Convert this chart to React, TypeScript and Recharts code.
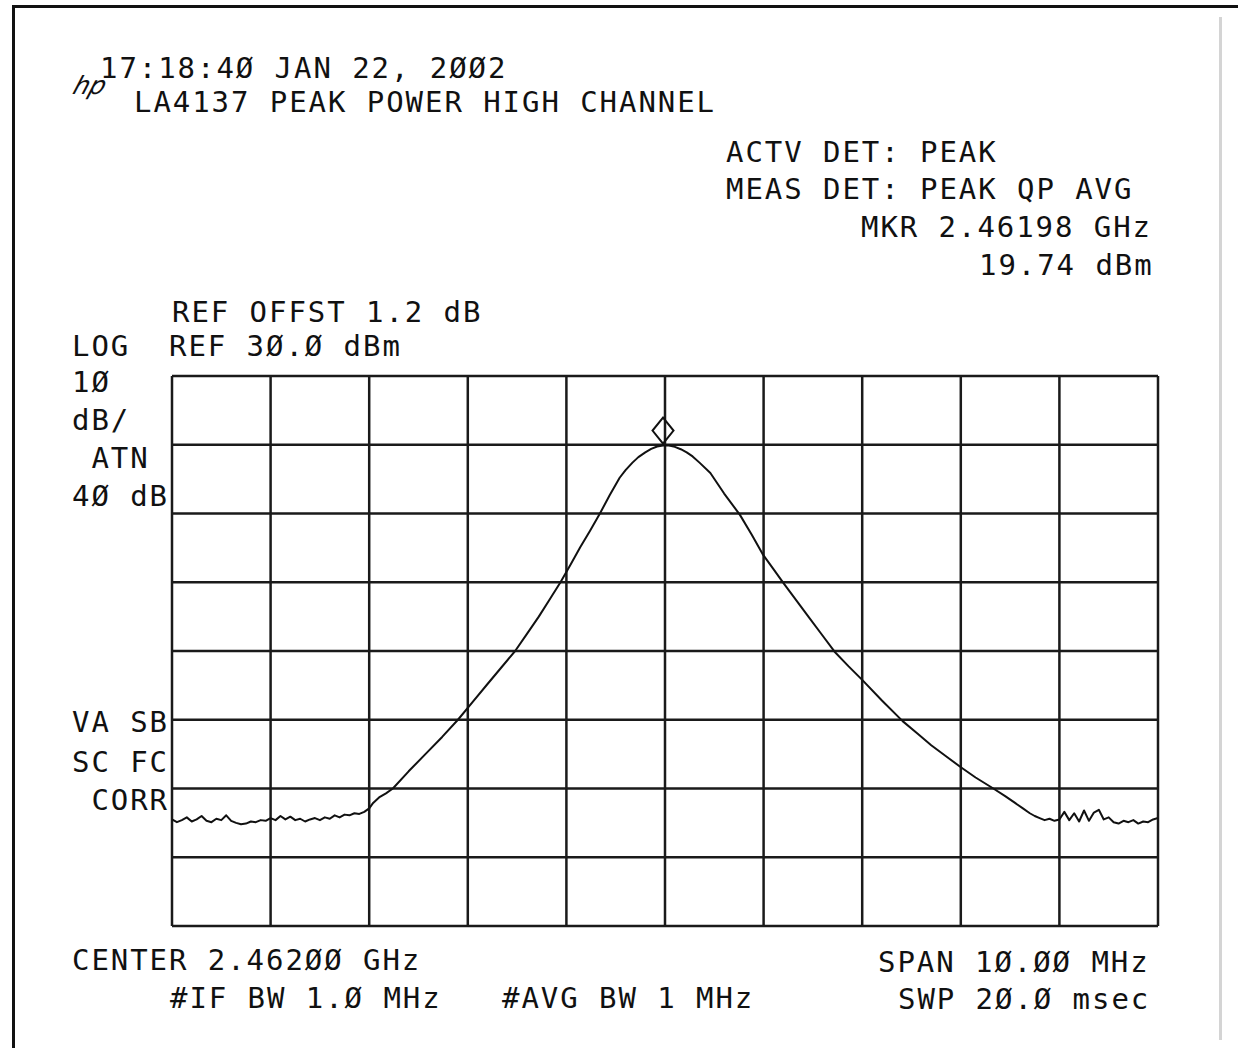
import React from "react"
import { LineChart, Line, XAxis, YAxis, ReferenceLine, ReferenceDot } from "recharts"

// trace, MHz offset from center (2.462 GHz) and level in dBm
const freqMHz = [
  -5.0, -4.95, -4.9, -4.85, -4.8, -4.75, -4.7, -4.65, -4.6, -4.55,
  -4.5, -4.45, -4.4, -4.35, -4.3, -4.25, -4.2, -4.15, -4.1, -4.05,
  -4.0, -3.95, -3.9, -3.85, -3.8, -3.75, -3.7, -3.65, -3.6, -3.55,
  -3.5, -3.45, -3.4, -3.35, -3.3, -3.25, -3.2, -3.15, -3.1, -3.05,
  -3.0, -2.96, -2.9, -2.83, -2.76, -2.6, -2.43, -2.26, -2.1, -1.95,
  -1.8, -1.66, -1.52, -1.4, -1.28, -1.17, -1.06, -0.96, -0.86, -0.76,
  -0.66, -0.56, -0.46, -0.4, -0.33, -0.27, -0.2, -0.14, -0.08, -0.02,
  0.04, 0.1, 0.16, 0.22, 0.28, 0.35, 0.46, 0.6, 0.76, 0.88,
  0.99, 1.1, 1.2, 1.33, 1.46, 1.59, 1.72, 1.86, 2.0, 2.2,
  2.41, 2.56, 2.7, 2.85, 2.99, 3.15, 3.33, 3.45, 3.55, 3.63, 3.7,
  3.75, 3.8, 3.85, 3.9, 3.95, 4.0, 4.05, 4.1, 4.15, 4.2, 4.25,
  4.3, 4.35, 4.4, 4.45, 4.5, 4.55, 4.6, 4.65, 4.7, 4.75,
  4.8, 4.85, 4.9, 4.95, 5.0,
]
const levelDbm = [
  -34.5, -34.9, -34.6, -34.2, -34.8, -34.5, -34.0, -34.7, -34.9, -34.4,
  -34.6, -33.9, -34.7, -35.0, -35.2, -35.1, -34.8, -34.9, -34.6, -34.7,
  -34.3, -34.6, -34.0, -34.5, -34.1, -34.6, -34.4, -34.8, -34.5, -34.3,
  -34.6, -34.2, -34.4, -33.9, -34.2, -33.8, -33.9, -33.6, -33.7, -33.4,
  -32.9, -32.1, -31.3, -30.7, -30.0, -27.5, -25.0, -22.5, -20.0, -17.4,
  -14.8, -12.4, -10.0, -7.5, -5.0, -2.5, 0.0, 2.5, 5.1, 7.5,
  10.0, 12.7, 15.2, 16.3, 17.4, 18.2, 18.9, 19.4, 19.75, 19.9,
  19.9, 19.7, 19.35, 18.9, 18.3, 17.4, 15.9, 12.9, 9.8, 6.9,
  4.1, 1.9, -0.1, -2.6, -5.1, -7.6, -10.1, -12.2, -14.2, -17.2,
  -20.2, -22.0, -23.7, -25.3, -26.8, -28.4, -30.0, -31.1, -32.1, -32.9, -33.6,
  -34.0, -34.3, -34.6, -34.4, -34.7, -34.5, -33.4, -34.6, -33.6, -34.8, -33.2,
  -34.7, -33.5, -33.1, -34.5, -34.2, -34.9, -35.1, -34.7, -34.9, -34.6,
  -35.1, -34.8, -34.9, -34.5, -34.3,
]

const gridFreqs = [-5, -4, -3, -2, -1, 0, 1, 2, 3, 4, 5]
const gridLevels = [-50, -40, -30, -20, -10, 0, 10, 20, 30]

const markerFreq = -0.02 // 2.46198 GHz
const markerLevel = 19.74

const data = freqMHz.map((f, i) => ({ freq: f, level: levelDbm[i] }))

const FONT = "'DejaVu Sans Mono', monospace"

function T({ x, y, children }: { x: number; y: number; children: string }) {
  return (
    <div
      style={{
        position: "absolute",
        left: x,
        top: y - 14,
        fontFamily: FONT,
        fontSize: 29,
        lineHeight: "29px",
        letterSpacing: 1.94,
        whiteSpace: "pre",
        color: "#111",
      }}
    >
      {children}
    </div>
  )
}

function Diamond(props: any) {
  const { cx, cy } = props
  const d = `M${cx},${cy - 3} L${cx + 10.5},${cy - 16} L${cx},${cy - 29} L${cx - 10.5},${cy - 16} Z`
  return <path d={d} fill="none" stroke="#111" strokeWidth={2} />
}

export default function App() {
  return (
    <div style={{ position: "absolute", left: 0, top: 0, width: 1238, height: 1048, background: "#fff", overflow: "hidden" }}>
      {/* page frame */}
      <div style={{ position: "absolute", left: 12, top: 5, width: 1240, height: 1060, borderTop: "3px solid #111", borderLeft: "3px solid #111" }} />
      <div style={{ position: "absolute", left: 1219, top: 17, width: 3, height: 1023, background: "#d4d4d4" }} />

      <LineChart
        width={1238}
        height={1048}
        data={data}
        margin={{ top: 376, left: 172, right: 80, bottom: 122 }}
        style={{ position: "absolute", left: 0, top: 0 }}
      >
        <XAxis dataKey="freq" type="number" domain={[-5, 5]} hide />
        <YAxis type="number" domain={[-50, 30]} hide />
        {gridFreqs.map((f) => (
          <ReferenceLine key={"v" + f} x={f} stroke="#1a1a1a" strokeWidth={2.5} />
        ))}
        {gridLevels.map((l) => (
          <ReferenceLine key={"h" + l} y={l} stroke="#1a1a1a" strokeWidth={2.5} />
        ))}
        <Line
          type="linear"
          dataKey="level"
          stroke="#111"
          strokeWidth={2}
          strokeLinejoin="round"
          dot={false}
          isAnimationActive={false}
        />
        <ReferenceDot x={markerFreq} y={markerLevel} shape={Diamond} />
      </LineChart>

      {/* hp logo */}
      <div
        style={{
          position: "absolute",
          left: 74,
          top: 72,
          fontFamily: "'DejaVu Sans', sans-serif",
          fontStyle: "italic",
          fontSize: 25,
          lineHeight: "28px",
          transform: "skewX(-18deg)",
          color: "#111",
        }}
      >
        hp
      </div>

      <T x={100} y={68}>17:18:4Ø JAN 22, 2ØØ2</T>
      <T x={134} y={102}>LA4137 PEAK POWER HIGH CHANNEL</T>

      <T x={726} y={152}>ACTV DET: PEAK</T>
      <T x={726} y={189}>MEAS DET: PEAK QP AVG</T>
      <T x={861} y={227}>MKR 2.46198 GHz</T>
      <T x={979} y={265}>19.74 dBm</T>

      <T x={172} y={312}>REF OFFST 1.2 dB</T>
      <T x={72} y={346}>LOG  REF 3Ø.Ø dBm</T>
      <T x={72} y={382}>1Ø</T>
      <T x={72} y={420}>dB/</T>
      <T x={72} y={458}> ATN</T>
      <T x={72} y={496}>4Ø dB</T>

      <T x={72} y={722}>VA SB</T>
      <T x={72} y={762}>SC FC</T>
      <T x={72} y={800}> CORR</T>

      <T x={72} y={960}>CENTER 2.462ØØ GHz</T>
      <T x={170} y={998}>#IF BW 1.Ø MHz</T>
      <T x={502} y={998}>#AVG BW 1 MHz</T>
      <T x={878} y={962}>SPAN 1Ø.ØØ MHz</T>
      <T x={898} y={999}>SWP 2Ø.Ø msec</T>
    </div>
  )
}
